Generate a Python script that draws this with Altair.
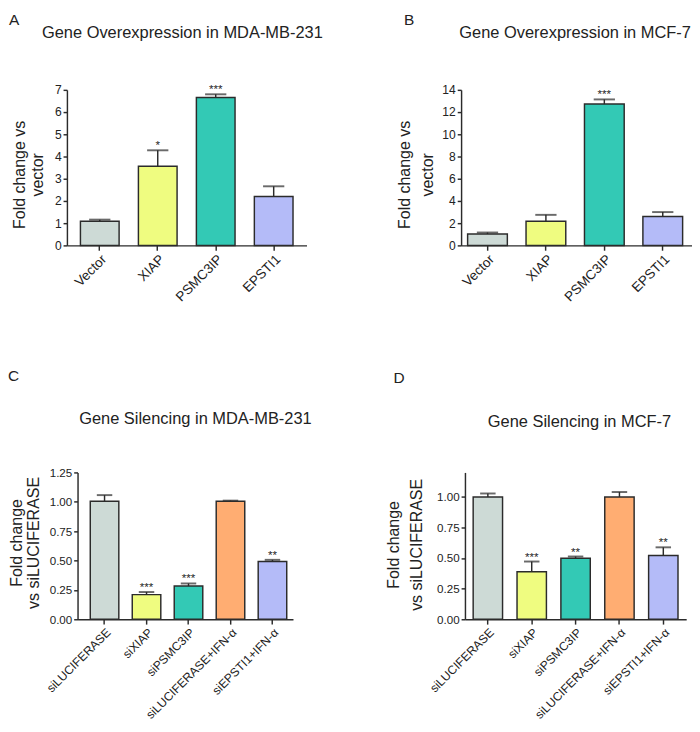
import altair as alt
import pandas as pd

FONT = "Liberation Sans"
INK = "#2b2b2b"
TXT = "#222222"

# ---- Panel A: Gene Overexpression in MDA-MB-231
a_cats = ["Vector", "XIAP", "PSMC3IP", "EPSTI1"]
a_vals = [1.09, 3.56, 6.66, 2.20]
a_tops = [1.16, 4.28, 6.80, 2.66]
a_stars = ["", "*", "***", ""]

# ---- Panel B: Gene Overexpression in MCF-7
b_cats = ["Vector", "XIAP", "PSMC3IP", "EPSTI1"]
b_vals = [1.03, 2.17, 12.72, 2.61]
b_tops = [1.16, 2.75, 13.14, 3.00]
b_stars = ["", "", "***", ""]

# ---- Panels C / D: Gene Silencing
cd_cats = ["siLUCIFERASE", "siXIAP", "siPSMC3IP", "siLUCIFERASE+IFN-α", "siEPSTI1+IFN-α"]
c_vals = [1.005, 0.21, 0.283, 1.005, 0.492]
c_tops = [1.057, 0.232, 0.305, 1.010, 0.506]
c_stars = ["", "***", "***", "", "**"]
d_vals = [1.00, 0.388, 0.498, 1.00, 0.522]
d_tops = [1.028, 0.472, 0.513, 1.040, 0.588]
d_stars = ["", "***", "**", "", "**"]

over_colors = ["#CDDAD6", "#EFFC80", "#33C9B5", "#B4BBF8"]
sil_colors = ["#CDDAD6", "#EFFC80", "#33C9B5", "#FFAD72", "#B4BBF8"]

letters = ["A", "B", "C", "D"]
titles = ["Gene Overexpression in MDA-MB-231", "Gene Overexpression in MCF-7",
          "Gene Silencing in MDA-MB-231", "Gene Silencing in MCF-7"]
ytitles_over = ["Fold change vs", "vector"]
ytitles_sil = ["Fold change", "vs siLUCIFERASE"]


def text_layer(s, **kw):
    return alt.Chart(pd.DataFrame({"t": [s]})).mark_text(font=FONT, color=TXT, **kw)


def panel(cats, vals, tops, stars, colors, *, letter, title, ytitle, yticks, ydomain, yfmt,
          width, height, pad_inner, pad_outer, align, xlab, ylab,
          title_pos, ytitle_pos, letter_pos, cap, inset=0):
    df = pd.DataFrame({"cat": cats, "val": vals, "top": tops, "star": stars})
    base = alt.Chart(df)
    sc = dict(paddingInner=pad_inner, paddingOuter=pad_outer, align=align)
    if inset:
        # plot area starts `inset` px to the right of the panel origin
        sc["range"] = [inset, width]
    xs = alt.Scale(**sc)
    xax = alt.Axis(title=None, labelAngle=-45, labelFontSize=xlab, labelFont=FONT)
    x = alt.X("cat:N", sort=cats, scale=xs, axis=xax)
    ys = alt.Scale(domain=ydomain, nice=False, zero=True)
    yax_kw = dict(values=yticks, format=yfmt, title=None, labelFontSize=ylab, labelFont=FONT)
    if inset:
        yax_kw["offset"] = -inset
    yax = alt.Axis(**yax_kw)
    bars = base.mark_bar(stroke=INK, strokeWidth=1.5).encode(
        x=x,
        y=alt.Y("val:Q", scale=ys, axis=yax),
        color=alt.Color("cat:N", scale=alt.Scale(domain=cats, range=colors), legend=None),
    )
    whisk = base.mark_rule(color=INK, strokeWidth=1.5).encode(
        x=x, y=alt.Y("val:Q", scale=ys, axis=yax), y2="top:Q")
    caps = base.mark_tick(color=INK, thickness=2, size=cap).encode(
        x=x, y=alt.Y("top:Q", scale=ys, axis=yax))
    star = base.mark_text(font=FONT, fontSize=12, baseline="alphabetic", dy=-1, color=TXT).encode(
        x=x, y=alt.Y("top:Q", scale=ys, axis=yax), text="star:N")
    lx, ly = letter_pos
    let = text_layer(letter, fontSize=16, align="left", baseline="alphabetic").encode(
        x=alt.value(lx + inset), y=alt.value(ly), text="t:N")
    tx, ty = title_pos
    head = text_layer(title, fontSize=17, align="center", baseline="alphabetic").encode(
        x=alt.value(tx + inset), y=alt.value(ty), text="t:N")
    (x1, x2), yc = ytitle_pos
    yt1 = text_layer(ytitle[0], fontSize=16.5, angle=270, align="center", baseline="alphabetic").encode(
        x=alt.value(x1 + inset), y=alt.value(yc), text="t:N")
    yt2 = text_layer(ytitle[1], fontSize=16.5, angle=270, align="center", baseline="alphabetic").encode(
        x=alt.value(x2 + inset), y=alt.value(yc), text="t:N")
    return alt.layer(bars, whisk, caps, star, let, head, yt1, yt2).properties(
        width=width + inset, height=height)


A = panel(a_cats, a_vals, a_tops, a_stars, over_colors, letter=letters[0], title=titles[0],
          ytitle=ytitles_over, yticks=[0, 1, 2, 3, 4, 5, 6, 7], ydomain=[0, 7], yfmt="d",
          width=248, height=161, pad_inner=0.333, pad_outer=0.233, align=0.5, xlab=14, ylab=12.5,
          title_pos=(119.5, -54), ytitle_pos=((-43, -25), 88), letter_pos=(-60, -67), cap=22)
B = panel(b_cats, b_vals, b_tops, b_stars, over_colors, letter=letters[1], title=titles[1],
          ytitle=ytitles_over, yticks=[0, 2, 4, 6, 8, 10, 12, 14], ydomain=[0, 14], yfmt="d",
          width=239, height=161, pad_inner=0.32, pad_outer=0.136, align=0.41, xlab=14, ylab=12.5,
          title_pos=(118, -54), ytitle_pos=((-53, -29), 88), letter_pos=(-59, -67), cap=22)
C = panel(cd_cats, c_vals, c_tops, c_stars, sil_colors, letter=letters[2], title=titles[2],
          ytitle=ytitles_sil, yticks=[0, 0.25, 0.5, 0.75, 1.0, 1.25], ydomain=[0, 1.25], yfmt=".2f",
          width=234, height=152, pad_inner=0.32, pad_outer=0.226, align=0.67, xlab=12.5, ylab=12,
          title_pos=(122, -50), ytitle_pos=((-57.5, -40), 73), letter_pos=(-72, -95), cap=16,
          inset=11)
D = panel(cd_cats, d_vals, d_tops, d_stars, sil_colors, letter=letters[3], title=titles[3],
          ytitle=ytitles_sil, yticks=[0, 0.25, 0.5, 0.75, 1.0], ydomain=[0, 1.2], yfmt=".2f",
          width=229, height=152, pad_inner=0.33, pad_outer=0.187, align=0.5, xlab=12.5, ylab=12,
          title_pos=(118.5, -47), ytitle_pos=((-68, -44), 75), letter_pos=(-74, -93), cap=16)

row1 = alt.hconcat(A, B, spacing=76).resolve_scale(color="independent")
row2 = alt.hconcat(C, D, spacing=77).resolve_scale(color="independent")
chart = (
    alt.vconcat(row1, row2, spacing=66)
    .resolve_scale(color="independent")
    .properties(padding={"left": 0, "top": -8, "right": 0, "bottom": 0})
    .configure_view(stroke=None)
    .configure_axis(
        labelFont=FONT, titleFont=FONT, labelFontSize=12,
        labelColor=TXT, domainColor=INK, domainWidth=1.5, tickColor=INK, tickWidth=1.5, grid=False,
    )
    .configure_axisX(tickSize=5, labelPadding=2, labelFontSize=13)
    .configure_axisY(tickSize=4, labelPadding=2)
)

chart.save("out.html", embed_options={"renderer": "svg", "actions": False})
